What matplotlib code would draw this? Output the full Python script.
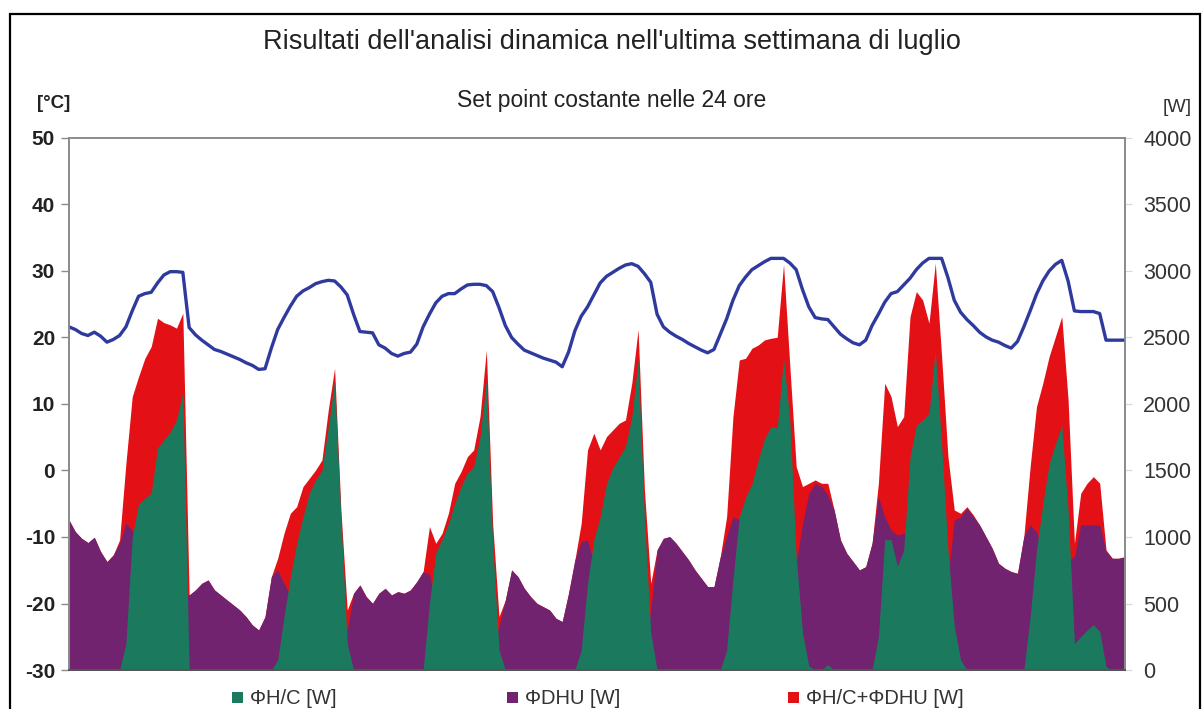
import numpy as np
import matplotlib
matplotlib.use("Agg")
import matplotlib.pyplot as plt
from matplotlib.patches import Rectangle

plt.rcParams['font.family'] = ['Liberation Sans', 'DejaVu Sans']
plt.rcParams['axes.unicode_minus'] = False

# Hourly values over the last week of July (168 hours)
hc_w = [
    0, 0, 0, 0, 0, 0, 0, 0, 0, 200, 1000, 1250, 1290, 1330, 1670, 1730, 1790, 1880, 2090, 0, 0, 0, 0, 0,
    0, 0, 0, 0, 0, 0, 0, 0, 0, 75, 400, 700, 950, 1150, 1330, 1430, 1500, 1830, 2170, 1150, 200, 0, 0, 0,
    0, 0, 0, 0, 0, 0, 0, 0, 0, 500, 880, 980, 1100, 1250, 1380, 1480, 1530, 1750, 2180, 950, 150, 0, 0, 0,
    0, 0, 0, 0, 0, 0, 0, 0, 0, 150, 650, 980, 1150, 1400, 1520, 1600, 1680, 1900, 2330, 1150, 280, 0, 0, 0,
    0, 0, 0, 0, 0, 0, 0, 0, 150, 680, 1150, 1300, 1400, 1580, 1740, 1830, 1820, 2340, 1880, 850, 280, 30, 0, 0,
    40, 0, 0, 0, 0, 0, 0, 0, 250, 980, 980, 780, 900, 1600, 1840, 1880, 1930, 2400, 1700, 900, 330, 75, 0, 0,
    0, 0, 0, 0, 0, 0, 0, 0, 400, 900, 1250, 1550, 1700, 1840, 1200, 200, 250, 300, 340, 290, 25, 0, 0, 0,
]

dhu_w = [
    1128, 1040, 990, 958, 998, 890, 815, 865, 953, 1103, 1050, 950, 1050, 1000, 980, 880, 800, 690, 590, 564, 602, 652, 677, 602,
    564, 526, 489, 451, 401, 338, 301, 401, 702, 752, 652, 560, 300, 250, 150, 100, 80, 120, 100, 50, 300, 577, 639, 552,
    501, 577, 614, 564, 589, 577, 602, 664, 740, 720, 500, 400, 300, 200, 150, 120, 120, 150, 220, 150, 330, 526, 752, 702,
    614, 552, 501, 476, 451, 389, 364, 577, 827, 965, 978, 800, 500, 350, 290, 250, 200, 250, 200, 200, 451, 903, 990, 1003,
    953, 890, 827, 752, 689, 627, 627, 852, 1003, 1153, 1128, 1040, 1015, 860, 740, 660, 685, 710, 800, 800, 1103, 1329, 1404, 1379,
    1316, 1203, 978, 877, 815, 752, 777, 953, 1304, 1153, 1053, 1015, 1028, 1000, 1000, 900, 677, 652, 653, 700, 1128, 1153, 1216, 1153,
    1091, 1003, 915, 802, 765, 740, 727, 1003, 1091, 1040, 900, 800, 800, 815, 828, 852, 1091, 1091, 1091, 1091, 890, 840, 840, 852,
]

total_w = [
    1128, 1040, 990, 958, 998, 890, 815, 865, 978, 1554, 2056, 2206, 2344, 2432, 2645, 2612, 2595, 2570, 2683, 564, 602, 652, 677, 602,
    564, 526, 489, 451, 401, 338, 301, 401, 702, 840, 1028, 1178, 1228, 1379, 1441, 1504, 1579, 1955, 2269, 1203, 450, 577, 639, 552,
    501, 577, 614, 564, 589, 577, 602, 664, 740, 1078, 953, 1028, 1178, 1404, 1492, 1604, 1655, 1905, 2407, 1100, 401, 526, 752, 702,
    614, 552, 501, 476, 451, 389, 364, 577, 827, 1103, 1655, 1780, 1655, 1755, 1805, 1855, 1880, 2156, 2560, 1354, 652, 903, 990, 1003,
    953, 890, 827, 752, 689, 627, 627, 852, 1153, 1905, 2331, 2344, 2419, 2444, 2482, 2494, 2502, 3050, 2281, 1529, 1379, 1404, 1429, 1404,
    1404, 1203, 978, 877, 815, 752, 777, 953, 1404, 2156, 2056, 1830, 1905, 2657, 2845, 2782, 2607, 3059, 2357, 1604, 1203, 1178, 1228, 1166,
    1091, 1003, 915, 802, 765, 740, 727, 1003, 1529, 1980, 2156, 2357, 2507, 2657, 2031, 953, 1329, 1404, 1454, 1404, 903, 840, 840, 852,
]

temp_c = [
    21.6, 21.2, 20.6, 20.3, 20.8, 20.2, 19.3, 19.7, 20.3, 21.6, 24.0, 26.2, 26.6, 26.8, 28.2, 29.4, 29.9, 29.9, 29.8, 21.5, 20.4, 19.6, 18.9, 18.2,
    17.9, 17.5, 17.1, 16.7, 16.2, 15.8, 15.2, 15.3, 18.4, 21.2, 23.0, 24.7, 26.2, 27.0, 27.5, 28.1, 28.4, 28.6, 28.5, 27.6, 26.4, 23.5, 20.9, 20.8,
    20.7, 18.9, 18.4, 17.6, 17.2, 17.6, 17.8, 19.0, 21.6, 23.5, 25.2, 26.2, 26.6, 26.6, 27.3, 27.9, 28.0, 28.0, 27.8, 26.9, 24.5, 21.8, 20.0, 19.0,
    18.1, 17.7, 17.3, 16.9, 16.6, 16.3, 15.6, 17.8, 21.0, 23.2, 24.6, 26.4, 28.2, 29.2, 29.8, 30.4, 30.9, 31.1, 30.7, 29.6, 28.3, 23.5, 21.6, 20.8,
    20.2, 19.7, 19.1, 18.6, 18.1, 17.7, 18.2, 20.5, 22.8, 25.6, 27.8, 29.1, 30.2, 30.8, 31.4, 31.9, 31.9, 31.9, 31.2, 30.2, 27.2, 24.6, 23.0, 22.8,
    22.7, 21.6, 20.5, 19.8, 19.2, 18.9, 19.6, 21.8, 23.5, 25.3, 26.6, 26.9, 27.9, 28.9, 30.2, 31.2, 31.9, 31.9, 31.9, 29.0, 25.6, 23.8, 22.7, 21.8,
    20.8, 20.1, 19.6, 19.3, 18.8, 18.4, 19.4, 21.6, 24.0, 26.5, 28.5, 30.0, 31.0, 31.6, 28.5, 24.0, 23.9, 23.9, 23.9, 23.6, 19.6, 19.6, 19.6, 19.6,
]

temp_ticks = [50, 40, 30, 20, 10, 0, -10, -20, -30]
power_ticks = [0, 500, 1000, 1500, 2000, 2500, 3000, 3500, 4000]

title = "Risultati dell'analisi dinamica nell'ultima settimana di luglio"
subtitle = "Set point costante nelle 24 ore"
labels = ["ΦH/C [W]", "ΦDHU [W]", "ΦH/C+ΦDHU [W]"]

c_hc = "#1b7a5e"
c_dhu = "#72236f"
c_tot = "#e31015"
c_temp = "#2e3a9e"
c_spine = "#8a8a8a"

hours = np.arange(len(temp_c))

fig = plt.figure(figsize=(12.03, 7.09), dpi=100)
fig.patch.set_facecolor("white")

# outer frame of the figure
fig.add_artist(Rectangle((10 / 1203, -0.05), 1190 / 1203, 1.05 - 14 / 709,
                         transform=fig.transFigure, fill=False,
                         edgecolor="black", linewidth=1.6))

ax_t = fig.add_axes([69 / 1203, 1 - 670 / 709, (1125 - 69) / 1203, (670 - 138) / 709])
ax_w = ax_t.twinx()

# power areas (drawn behind the temperature curve)
ax_w.fill_between(hours, 0, total_w, color=c_tot, linewidth=0, zorder=1)
ax_w.fill_between(hours, 0, dhu_w, color=c_dhu, linewidth=0, zorder=2)
ax_w.fill_between(hours, 0, hc_w, color=c_hc, linewidth=0, zorder=3)
ax_w.set_ylim(0, 4000)
ax_w.set_yticks(power_ticks)
ax_w.set_yticklabels([str(v) for v in power_ticks])
ax_w.tick_params(axis="y", direction="out", length=5, width=0.8,
                 color="#d8d8d8", labelsize=15.5, labelcolor="#333333", pad=8)

ax_t.set_zorder(ax_w.get_zorder() + 1)
ax_t.patch.set_visible(False)
ax_t.plot(hours, temp_c, color=c_temp, linewidth=2.4, solid_joinstyle="round")
ax_t.set_ylim(-30, 50)
ax_t.set_xlim(0, len(hours) - 1)
ax_t.set_yticks(temp_ticks)
ax_t.set_yticklabels([str(v) for v in temp_ticks], fontweight="bold")
ax_t.tick_params(axis="y", direction="out", length=6, width=1.0,
                 color=c_spine, labelsize=15, labelcolor="#222222", pad=4)
ax_t.set_xticks([])

for ax in (ax_t, ax_w):
    for side in ("left", "right", "top"):
        ax.spines[side].set_color(c_spine)
        ax.spines[side].set_linewidth(1.2)
    ax.spines["bottom"].set_color("#555555")
    ax.spines["bottom"].set_linewidth(1.4)

fig.text(612 / 1203, 1 - 42 / 709, title, ha="center", va="center",
         fontsize=19.5, color="#222222")
fig.text(612 / 1203, 1 - 101 / 709, subtitle, ha="center", va="center",
         fontsize=16.5, color="#222222")
fig.text(54 / 1203, 1 - 104 / 709, "[°C]", ha="center", va="center",
         fontsize=13.5, fontweight="bold", color="#222222")
fig.text(1177 / 1203, 1 - 108 / 709, "[W]", ha="center", va="center",
         fontsize=14, color="#333333")

# legend below the plot
legend_x = [232, 507, 788]
for x0, lab, col in zip(legend_x, labels, [c_hc, c_dhu, c_tot]):
    fig.add_artist(Rectangle((x0 / 1203, 1 - 703 / 709), 11 / 1203, 11 / 709,
                             transform=fig.transFigure, facecolor=col,
                             edgecolor="none"))
    fig.text((x0 + 18) / 1203, 1 - 698 / 709, lab, ha="left", va="center",
             fontsize=14.5, color="#333333")

fig.savefig("out.png", dpi=100, facecolor="white")
